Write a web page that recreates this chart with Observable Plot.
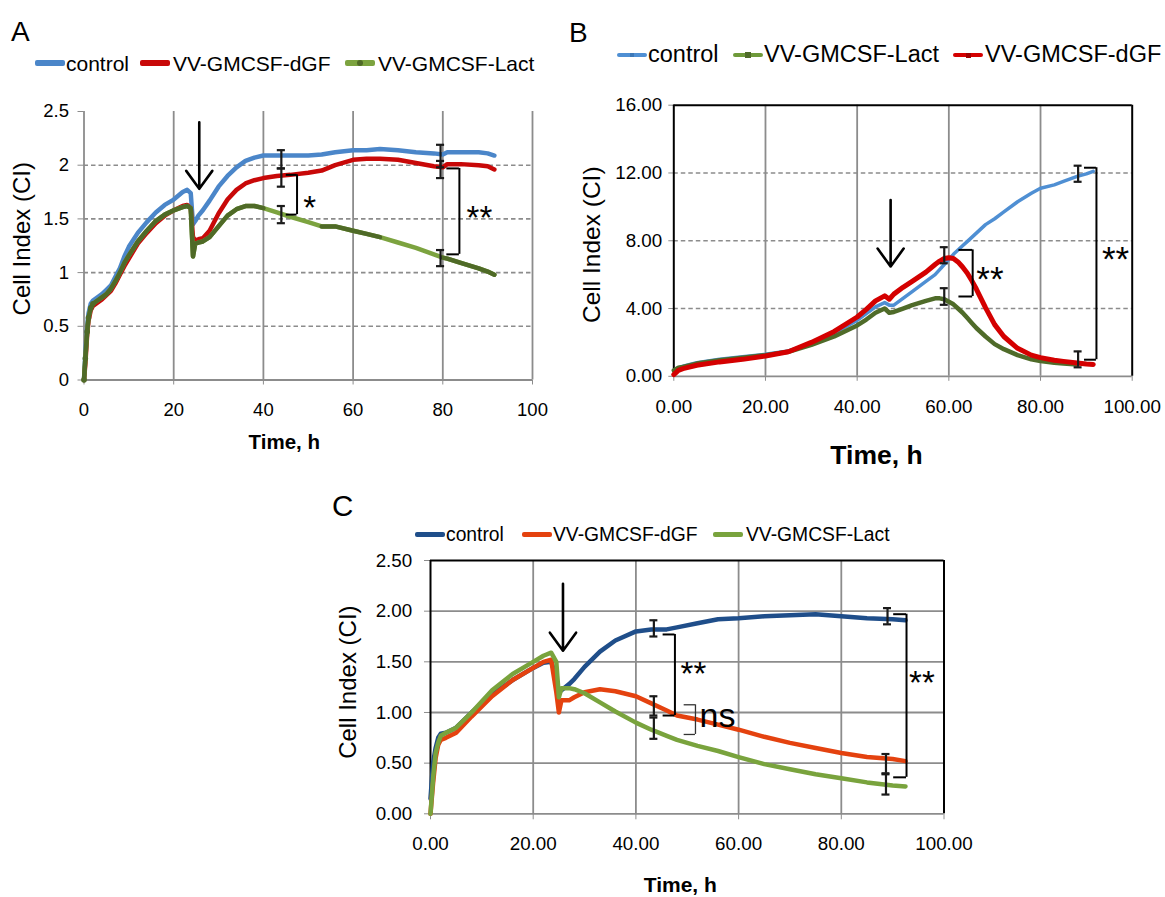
<!DOCTYPE html>
<html><head><meta charset="utf-8">
<script src="https://cdn.jsdelivr.net/npm/d3@7"></script>
<script src="https://cdn.jsdelivr.net/npm/@observablehq/plot@0.6"></script>
<style>
body{margin:0;background:#fff;font-family:"Liberation Sans",Arial,sans-serif;}
#root{position:relative;width:1165px;height:897px;overflow:hidden;background:#fff;}
.box{position:absolute;}
.lbl{position:absolute;white-space:nowrap;line-height:1;color:#000;}
.sw{position:absolute;border-radius:2px;}
.mk{position:absolute;}
</style></head><body><div id="root"></div>
<script>
// ---------------- DATA ----------------
const seriesNames = ["control", "VV-GMCSF-dGF", "VV-GMCSF-Lact"];

// Panel A
const timeA = [0,0.3,0.7,1,1.5,2,3,4,5,6,7,8,9,10,12,14,16,18,20,22,23,23.8,24.3,24.8,25.5,26.5,28,30,32,34,36,38,40,43,46,50,53,56,60,63,66,70,74,78,80,81,84,88,90,91.5];
const controlA = [0,0.25,0.5,0.62,0.71,0.74,0.77,0.8,0.84,0.88,0.96,1.04,1.15,1.24,1.37,1.47,1.56,1.63,1.68,1.75,1.77,1.74,1.45,1.48,1.53,1.58,1.67,1.8,1.9,1.98,2.04,2.07,2.09,2.09,2.09,2.09,2.1,2.12,2.14,2.14,2.15,2.14,2.12,2.11,2.1,2.12,2.12,2.12,2.11,2.09];
const dgfA = [0,0.15,0.42,0.55,0.65,0.69,0.72,0.75,0.79,0.83,0.9,0.98,1.06,1.13,1.27,1.37,1.46,1.53,1.58,1.62,1.63,1.6,1.33,1.3,1.31,1.32,1.39,1.55,1.68,1.77,1.83,1.86,1.88,1.9,1.91,1.93,1.95,2.0,2.05,2.06,2.06,2.05,2.02,1.99,1.98,2.01,2.01,2.0,1.99,1.96];
const lactA = [0,0.2,0.45,0.58,0.67,0.71,0.74,0.77,0.8,0.85,0.92,1.0,1.09,1.16,1.29,1.39,1.48,1.54,1.58,1.61,1.62,1.6,1.15,1.27,1.28,1.29,1.33,1.43,1.53,1.59,1.62,1.62,1.6,1.56,1.52,1.47,1.43,1.43,1.39,1.36,1.33,1.28,1.23,1.17,1.14,1.13,1.09,1.04,1.01,0.98];
const errTimeA = [44,44,44,79.5,79.5,79.5];
const errLowA  = [1.97,1.80,1.46,1.98,1.88,1.06];
const errHighA = [2.14,1.97,1.62,2.19,2.04,1.21];
const brFromA = [45.1,80.9], brAtA = [47.5,83.7], brTopA = [1.91,1.97], brBottomA = [1.54,1.17];
const sigTextA = ["*","**"], sigXA = [48.9,85.3], sigYA = [1.67,1.58];
const arrowA = {t:25.7, from:2.4, to:1.78};
const xTicksA = [0,20,40,60,80,100];
const yTicksA = [0,0.5,1,1.5,2,2.5];

// Panel B
const timeB = [0,1,2,5,10,15,20,25,30,35,40,42,44,46,47,48,50,52,55,57,58,59,60,61,62,63,64,65,66,67,68,70,72,75,78,80,83,85,88,90,91.5];
const controlB = [0.35,0.5,0.6,0.8,1.0,1.15,1.3,1.5,1.95,2.55,3.3,3.7,4.1,4.35,4.2,4.2,4.6,5.0,5.6,6.0,6.3,6.6,6.9,7.2,7.45,7.7,7.95,8.2,8.45,8.7,8.95,9.3,9.7,10.3,10.8,11.1,11.3,11.5,11.8,11.95,12.1];
const dgfB = [0.1,0.35,0.45,0.65,0.85,1.0,1.2,1.45,2.0,2.65,3.5,3.95,4.45,4.75,4.55,4.85,5.25,5.6,6.15,6.6,6.8,6.95,7.0,6.95,6.75,6.45,6.1,5.65,5.15,4.6,4.05,3.05,2.35,1.65,1.25,1.1,0.95,0.88,0.78,0.72,0.7];
const lactB = [0.35,0.5,0.55,0.75,0.95,1.1,1.25,1.45,1.85,2.35,3.0,3.35,3.75,4.0,3.75,3.8,4.0,4.2,4.45,4.6,4.6,4.55,4.4,4.25,4.0,3.75,3.45,3.15,2.85,2.6,2.35,1.9,1.6,1.25,1.0,0.9,0.8,0.75,0.7,null,null];
const errTimeB = [59,59,88.2,88.2];
const errLowB  = [6.67,4.22,11.48,0.53];
const errHighB = [7.62,5.2,12.43,1.47];
const brFromB = [62.2,89.6], brAtB = [65.2,92.2], brTopB = [7.46,12.31], brBottomB = [4.71,0.98];
const sigTextB = ["**","**"], sigXB = [66.0,93.4], sigYB = [6.18,7.36];
const arrowB = {t:47.3, from:10.4, to:6.48};
const xTicksB = [0,20,40,60,80,100];
const yTicksB = [0,4,8,12,16];

// Panel C
const timeC = [0,0.5,1,1.5,2,3,5,8,12,16,20,22,23.5,24.5,25,25.5,27,28,30,33,36,40,43,46,48,52,56,60,65,70,75,80,85,90,92.5];
const controlC = [0.15,0.5,0.65,0.75,0.79,0.8,0.85,1.0,1.18,1.32,1.44,1.49,1.5,1.35,1.2,1.22,1.28,1.33,1.45,1.6,1.71,1.8,1.82,1.82,1.84,1.88,1.92,1.93,1.95,1.96,1.97,1.95,1.93,1.92,1.91];
const dgfC = [0,0.3,0.55,0.68,0.73,0.75,0.8,0.96,1.16,1.32,1.44,1.5,1.52,1.2,1.0,1.12,1.12,1.15,1.2,1.23,1.21,1.16,1.09,1.02,0.97,0.93,0.88,0.83,0.76,0.7,0.65,0.6,0.56,0.54,0.52];
const lactC = [0,0.35,0.6,0.7,0.77,0.8,0.85,1.0,1.22,1.38,1.5,1.56,1.59,1.5,1.15,1.24,1.24,1.23,1.19,1.1,1.01,0.9,0.83,0.77,0.73,0.67,0.62,0.56,0.49,0.44,0.39,0.35,0.31,0.28,0.27];
const errTimeC = [43.5,43.5,43.5,89,88.7,88.7];
const errLowC  = [1.75,0.97,0.74,1.87,0.40,0.19];
const errHighC = [1.91,1.16,0.95,2.03,0.59,0.39];
const brFromC = [45.3,90.2], brAtC = [47.6,92.7], brTopC = [1.77,1.97], brBottomC = [0.97,0.36];
const sigTextC = ["**","**"], sigXC = [48.7,93.2], sigYC = [1.45,1.37];
const nsFromC = [49.4], nsAtC = [51.6], nsTopC = [1.076], nsBottomC = [0.783];
const nsTextC = ["ns"], nsXC = [52.4], nsYC = [0.94];
const arrowC = {t:25.8, from:2.27, to:1.61};
const xTicksC = [0,20,40,60,80,100];
const yTicksC = [0,0.5,1,1.5,2,2.5];

// ---------------- HELPERS ----------------
const FONT = '"Liberation Sans", Arial, sans-serif';
const GRID = "#8c8c8c";
const root = document.getElementById("root");
const rows = (time, vals) => time.map((t, i) => ({t, v: vals[i]})).filter(d => d.v != null);
const errRows = (ts, lo, hi) => ts.map((t, i) => ({t, lo: lo[i], hi: hi[i]}));
const brRows = (from, at, top, bottom) => from.map((f, i) => ({from: f, at: at[i], top: top[i], bottom: bottom[i]}));
const txtRows = (txt, xs, ys) => txt.map((s, i) => ({s, x: xs[i], y: ys[i]}));

function errorMarks(errs, cap) {
  const o = {stroke: "#1a1a1a", strokeWidth: 2.2};
  return [
    Plot.ruleX(errs, {x: "t", y1: "lo", y2: "hi", ...o}),
    Plot.ruleY(errs, {y: "lo", x1: d => d.t - cap, x2: d => d.t + cap, ...o}),
    Plot.ruleY(errs, {y: "hi", x1: d => d.t - cap, x2: d => d.t + cap, ...o})
  ];
}
function bracketMarks(b, color, w) {
  return [
    Plot.ruleX(b, {x: "at", y1: "top", y2: "bottom", stroke: color, strokeWidth: w}),
    Plot.ruleY(b, {y: "top", x1: "from", x2: "at", stroke: color, strokeWidth: w}),
    Plot.ruleY(b, {y: "bottom", x1: "from", x2: "at", stroke: color, strokeWidth: w})
  ];
}
function arrowMark(a) {
  return Plot.arrow([a], {x1: "t", x2: "t", y1: "from", y2: "to", stroke: "#000", strokeWidth: 2.6, headLength: 14, headAngle: 72});
}
function place(el, left, top) {
  const d = document.createElement("div");
  d.className = "box";
  d.style.left = left + "px"; d.style.top = top + "px";
  d.appendChild(el);
  root.appendChild(d);
}
function addText(text, left, yCenter, size, extra) {
  const d = document.createElement("div");
  d.className = "lbl";
  d.textContent = text;
  d.style.left = left + "px";
  d.style.top = (yCenter - size * 0.5) + "px";
  d.style.fontSize = size + "px";
  if (extra) Object.assign(d.style, extra);
  root.appendChild(d);
}
function addLegend(items, yCenter, size, swH) {
  items.forEach(it => {
    const s = document.createElement("div");
    s.className = "sw";
    s.style.left = it.sw + "px"; s.style.width = "30px";
    s.style.top = (yCenter - swH / 2) + "px"; s.style.height = swH + "px";
    s.style.background = it.color;
    root.appendChild(s);
    if (it.marker) {
      const m = document.createElement("div");
      m.className = "mk";
      const ms = it.markerSize || 6;
      m.style.left = (it.sw + 15 - ms / 2) + "px"; m.style.top = (yCenter - ms / 2) + "px";
      m.style.width = ms + "px"; m.style.height = ms + "px";
      m.style.background = it.marker;
      if (it.round) m.style.borderRadius = "50%";
      root.appendChild(m);
    }
    addText(it.label, it.tx, yCenter, size);
  });
}
function yTitle(dx, dy, size) {
  return Plot.text(["Cell Index (CI)"], {text: d => d, frameAnchor: "left", textAnchor: "middle", lineAnchor: "middle", rotate: -90, dx, dy, fontSize: size});
}
function xTitle(dx, dy, size) {
  return Plot.text(["Time, h"], {text: d => d, frameAnchor: "bottom", textAnchor: "middle", lineAnchor: "middle", dx, dy, fontSize: size, fontWeight: "bold"});
}

// ---------------- PANEL A ----------------
(function () {
  const blue = "#4b86c9", red = "#c80808", lightG = "#7ca33f", darkG = "#4f6a27";
  const c = rows(timeA, controlA), r = rows(timeA, dgfA), g = rows(timeA, lactA);
  const darkRanges = [[0, 40], [53, 66], [80, 91.5]];
  const gDark = [];
  darkRanges.forEach((rg, k) => g.forEach(d => { if (d.t >= rg[0] && d.t <= rg[1]) gDark.push({...d, seg: k}); }));
  const W = 560, H = 390, L = 83.5, R = 28, T = 31, B = 90.5;
  const svg = Plot.plot({
    width: W, height: H, marginLeft: L, marginRight: R, marginTop: T, marginBottom: B,
    x: {domain: [0, 100]}, y: {domain: [0, 2.5]},
    style: {fontFamily: FONT, fontSize: "18.5px", background: "transparent", overflow: "visible", color: "#000"},
    marks: [
      Plot.ruleY(yTicksA.filter(v => v > 0 && v < 2.5), {stroke: GRID, strokeWidth: 1.6, strokeDasharray: "4.5,3"}),
      Plot.ruleX(xTicksA.filter(v => v > 0), {y1: 0, y2: 2.5, stroke: GRID, strokeWidth: 1.8}),
      Plot.ruleX([0], {y1: 0, y2: 2.5, stroke: GRID, strokeWidth: 1.8}),
      Plot.ruleY([0], {stroke: GRID, strokeWidth: 1.8}),
      Plot.axisX({ticks: xTicksA, tickFormat: d => String(d), tickSize: 5, tickPadding: 18, stroke: GRID, fill: "#000", label: null}),
      Plot.axisY({ticks: yTicksA, tickFormat: d => String(d), tickSize: 6, tickPadding: 9, stroke: GRID, fill: "#000", label: null}),
      Plot.line(c, {x: "t", y: "v", stroke: blue, strokeWidth: 4.5}),
      Plot.line(r, {x: "t", y: "v", stroke: red, strokeWidth: 4.5}),
      Plot.line(g, {x: "t", y: "v", stroke: lightG, strokeWidth: 4.5}),
      Plot.line(gDark, {x: "t", y: "v", z: "seg", stroke: darkG, strokeWidth: 4.5}),
      Plot.dot(g.filter(d => d.t <= 2), {x: "t", y: "v", r: 2.8, fill: darkG}),
      ...errorMarks(errRows(errTimeA, errLowA, errHighA), 0.9),
      ...bracketMarks(brRows(brFromA, brAtA, brTopA, brBottomA), "#000", 2),
      Plot.text(txtRows(sigTextA, sigXA, sigYA), {x: "x", y: "y", text: "s", textAnchor: "start", lineAnchor: "middle", fontSize: 33, dy: 8}),
      arrowMark(arrowA),
      xTitle(-24, 62, 20.5),
      yTitle(-62, -7, 24)
    ]
  });
  place(svg, 0, 80);
  addText("A", 11, 31.5, 28);
  addLegend([
    {sw: 35, tx: 66, label: seriesNames[0], color: blue},
    {sw: 140, tx: 173, label: seriesNames[1], color: red},
    {sw: 345, tx: 378, label: seriesNames[2], color: lightG, marker: darkG, markerSize: 6, round: true}
  ], 63.3, 21, 6);
})();

// ---------------- PANEL B ----------------
(function () {
  const blue = "#4f8fd3", red = "#d40000", green = "#4f6b29";
  const c = rows(timeB, controlB), r = rows(timeB, dgfB), g = rows(timeB, lactB);
  const W = 605, H = 400, L = 113.3, R = 33.3, T = 24.7, B = 104.2;
  const svg = Plot.plot({
    width: W, height: H, marginLeft: L, marginRight: R, marginTop: T, marginBottom: B,
    x: {domain: [0, 100]}, y: {domain: [0, 16]},
    style: {fontFamily: FONT, fontSize: "18.8px", background: "transparent", overflow: "visible", color: "#000"},
    marks: [
      Plot.ruleY([4, 8, 12], {stroke: GRID, strokeWidth: 1.6, strokeDasharray: "4.5,3"}),
      Plot.ruleX([20, 40, 60, 80], {y1: 0, y2: 16, stroke: GRID, strokeWidth: 1.8}),
      Plot.ruleY([0], {stroke: GRID, strokeWidth: 1.8}),
      Plot.axisX({ticks: xTicksB, tickFormat: d3.format(".2f"), tickSize: 5, tickPadding: 18.4, stroke: GRID, fill: "#000", label: null}),
      Plot.axisY({ticks: yTicksB, tickFormat: d3.format(".2f"), tickSize: 5, tickPadding: 6.6, stroke: GRID, fill: "#000", label: null}),
      Plot.ruleX([0, 100], {y1: 0, y2: 16, stroke: "#000", strokeWidth: 2}),
      Plot.ruleY([16], {stroke: "#000", strokeWidth: 2}),
      Plot.line(c, {x: "t", y: "v", stroke: blue, strokeWidth: 3.5}),
      Plot.line(g, {x: "t", y: "v", stroke: green, strokeWidth: 4.5}),
      Plot.line(r, {x: "t", y: "v", stroke: red, strokeWidth: 5}),
      ...errorMarks(errRows(errTimeB, errLowB, errHighB), 0.87),
      ...bracketMarks(brRows(brFromB, brAtB, brTopB, brBottomB), "#000", 2),
      Plot.text(txtRows(sigTextB, sigXB, sigYB), {x: "x", y: "y", text: "s", textAnchor: "start", lineAnchor: "middle", fontSize: 35, dy: 8}),
      arrowMark(arrowB),
      xTitle(-26.5, 79, 26.5),
      yTitle(-82, 4, 24.5)
    ]
  });
  place(svg, 560, 80);
  addText("B", 569, 33, 28);
  addLegend([
    {sw: 617, tx: 648, label: seriesNames[0], color: blue, marker: "#3d78b8", markerSize: 4},
    {sw: 733, tx: 764, label: seriesNames[2], color: "#6f9a3a", marker: green, markerSize: 6},
    {sw: 953, tx: 985, label: seriesNames[1], color: red, marker: "#a00000", markerSize: 5}
  ], 55, 23.5, 4);
})();

// ---------------- PANEL C ----------------
(function () {
  const blue = "#1f4e8a", red = "#e4420f", green = "#79a33d";
  const c = rows(timeC, controlC), r = rows(timeC, dgfC), g = rows(timeC, lactC);
  const W = 680, H = 352, L = 130, R = 36.5, T = 15, B = 83.7;
  const svg = Plot.plot({
    width: W, height: H, marginLeft: L, marginRight: R, marginTop: T, marginBottom: B,
    x: {domain: [0, 100]}, y: {domain: [0, 2.5]},
    style: {fontFamily: FONT, fontSize: "18.8px", background: "transparent", overflow: "visible", color: "#000"},
    marks: [
      Plot.ruleY([0.5, 1, 1.5, 2], {stroke: GRID, strokeWidth: 1.8}),
      Plot.ruleX([20, 40, 60, 80], {y1: 0, y2: 2.5, stroke: GRID, strokeWidth: 1.8}),
      Plot.ruleY([0], {stroke: GRID, strokeWidth: 1.8}),
      Plot.axisX({ticks: xTicksC, tickFormat: d3.format(".2f"), tickSize: 6, tickPadding: 16.6, stroke: GRID, fill: "#000", label: null}),
      Plot.axisY({ticks: yTicksC, tickFormat: d3.format(".2f"), tickSize: 6, tickPadding: 12.3, stroke: GRID, fill: "#000", label: null}),
      Plot.ruleX([0, 100], {y1: 0, y2: 2.5, stroke: "#000", strokeWidth: 2}),
      Plot.ruleY([2.5], {stroke: "#000", strokeWidth: 2}),
      Plot.line(c, {x: "t", y: "v", stroke: blue, strokeWidth: 4.5}),
      Plot.line(r, {x: "t", y: "v", stroke: red, strokeWidth: 4.5}),
      Plot.line(g, {x: "t", y: "v", stroke: green, strokeWidth: 4.5}),
      ...errorMarks(errRows(errTimeC, errLowC, errHighC), 0.78),
      ...bracketMarks(brRows(brFromC, brAtC, brTopC, brBottomC), "#000", 2),
      ...bracketMarks(brRows(nsFromC, nsAtC, nsTopC, nsBottomC), "#333", 1.3),
      Plot.text(txtRows(sigTextC, sigXC, sigYC), {x: "x", y: "y", text: "s", textAnchor: "start", lineAnchor: "middle", fontSize: 33, dy: 8}),
      Plot.text(txtRows(nsTextC, nsXC, nsYC), {x: "x", y: "y", text: "s", textAnchor: "start", lineAnchor: "middle", fontSize: 34, dy: -2}),
      arrowMark(arrowC),
      xTitle(-7, 71.5, 21),
      yTitle(-82, -5, 24)
    ]
  });
  place(svg, 300, 545);
  addText("C", 332, 506, 29.5);
  addLegend([
    {sw: 415, tx: 446, label: seriesNames[0], color: blue},
    {sw: 522, tx: 553, label: seriesNames[1], color: red},
    {sw: 713, tx: 746, label: seriesNames[2], color: green}
  ], 534.3, 19.3, 5);
})();
</script></body></html>
